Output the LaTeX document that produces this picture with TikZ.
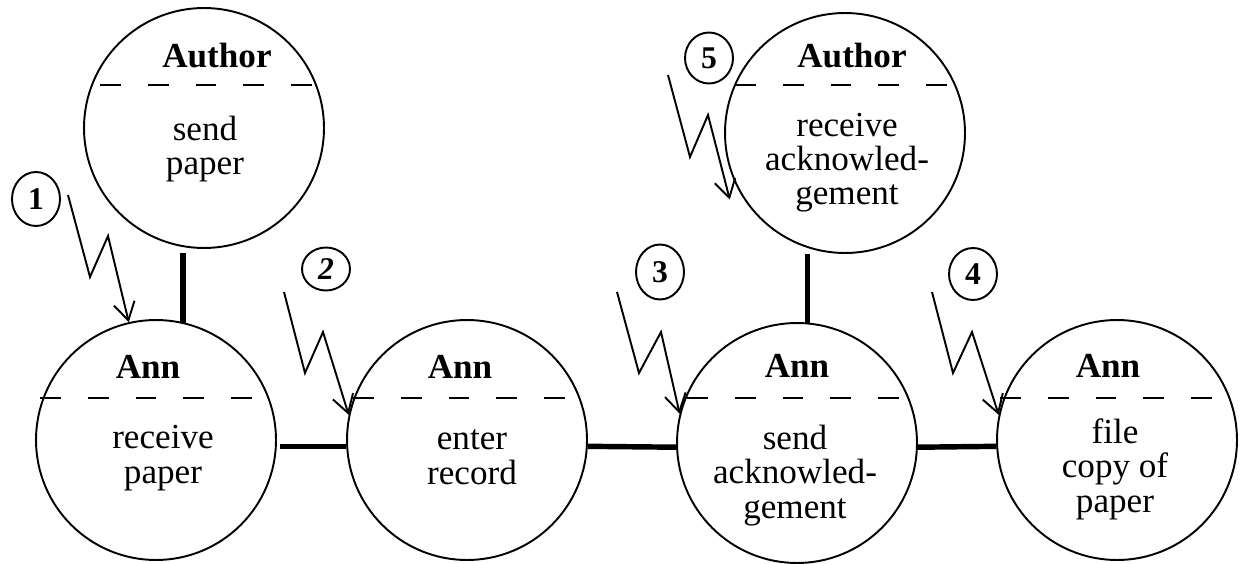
\documentclass[tikz,border=0pt]{standalone}
\usepackage{fontspec}
\setmainfont{Liberation Serif}
\usetikzlibrary{shapes.geometric,arrows.meta,calc}

\tikzset{
  proc/.style={circle, draw, line width=1.1pt, minimum size=4.8cm, inner sep=0pt},
  divider/.style={line width=1.1pt, dash pattern=on 11.9pt off 15.3pt},
  link/.style={line width=3.1pt},
  bolt/.style={line width=1.1pt, -{Straight Barb[length=10pt,width=12pt]}},
  num/.style={ellipse, draw, line width=1.1pt, inner sep=0pt, minimum width=0.96cm,
              font=\fontsize{18}{18}\selectfont\bfseries},
  role/.style={font=\fontsize{20}{20}\selectfont\bfseries, anchor=base, inner sep=0pt},
  % multi-line tasks: the base anchor sits on the last line
  task/.style={font=\fontsize{20}{19.6}\selectfont, align=center, anchor=base, inner sep=0pt}
}

\begin{document}
\begin{tikzpicture}[x=0.02cm, y=-0.02cm]
\useasboundingbox (0,0) rectangle (1244,564);

% process circles
\node[proc] (auth1) at (204,128) {};
\node[proc] (auth2) at (845,133) {};
\node[proc] (ann1)  at (156,440) {};
\node[proc] (ann2)  at (467,440) {};
\node[proc] (ann3)  at (797,443) {};
\node[proc] (ann4)  at (1117,440) {};

% role / task separators
\draw[divider] ($(auth1.center)+(-104,-43)$) -- ++(213,0);
\draw[divider] ($(auth2.center)+(-110,-48)$) -- ++(213,0);
\draw[divider] ($(ann1.center)+(-116,-42)$) -- ++(213,0);
\draw[divider] ($(ann2.center)+(-114,-42)$) -- ++(213,0);
\draw[divider] ($(ann3.center)+(-110,-45)$) -- ++(213,0);
\draw[divider] ($(ann4.center)+(-117,-42)$) -- ++(213,0);

% roles
\node[role] (r1) at (217,68)  {Author};
\node[role] (r2) at (852,68)  {Author};
\node[role] (r3) at (148,378) {Ann};
\node[role] (r4) at (460,378) {Ann};
\node[role] (r5) at (797,377) {Ann};
\node[role] (r6) at (1108,377) {Ann};

% tasks
\node[task] (t1) at (205,175) {send\\paper};
\node[task] (t2) at (847,205) {receive\\acknowled-\\gement};
\node[task] (t3) at (163,483) {receive\\paper};
\node[task] (t4) at (472,484) {enter\\record};
\node[task] (t5) at (795,518) {send\\acknowled-\\gement};
\node[task] (t6) at (1115,512) {file\\copy of\\paper};

% links between processes
\draw[link, shorten <=0.12cm] (auth1.260) -- (auth1.260 |- ann1.76);
\draw[link, shorten <=0.12cm] (auth2.252) -- (auth2.252 |- ann3.85);
\draw[link, shorten <=0.06cm] (ann1.-3) -- (ann2.183);
\draw[link] (ann2.-3) -- (ann3.182);
\draw[link] (ann3.-2) -- (ann4.183);

% numbered events
\node[num, minimum height=1.08cm] (n1) at (36,199)  {1};
\node[num, minimum height=0.86cm] (n2) at (326,269) {\itshape 2};
\node[num, minimum height=1.10cm] (n3) at (660,272) {3};
\node[num, minimum height=1.04cm] (n4) at (973,274) {4};
\node[num, minimum height=1.02cm] (n5) at (709,58)  {5};

% event triggers
\coordinate (s1) at (68,195);
\coordinate (s2) at (284,292);
\coordinate (s3) at (617,292);
\coordinate (s4) at (932,292);
\coordinate (s5) at (668,75);
\draw[bolt] (s1) -- ++(22,82) -- ++(18,-41) -- (ann1.103);
\draw[bolt] (s2) -- ++(21,81) -- ++(18,-41) -- (ann2.168);
\draw[bolt] (s3) -- ++(22,81) -- ++(22,-41) -- (ann3.166);
\draw[bolt] (s4) -- ++(21,81) -- ++(19,-41) -- (ann4.168);
\draw[bolt] (s5) -- ++(22,82) -- ++(18,-42) -- ($(auth2.center)!1.1!(auth2.210)$);
\end{tikzpicture}
\end{document}
